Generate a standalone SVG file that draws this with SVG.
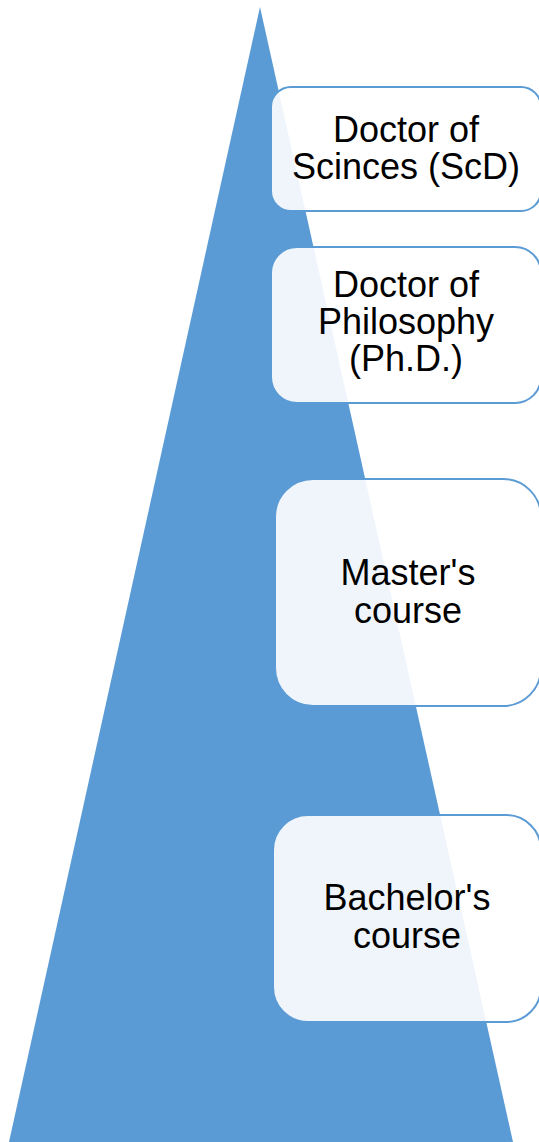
<svg xmlns="http://www.w3.org/2000/svg" width="539" height="1142" viewBox="0 0 539 1142">
<style>
.box{fill:#ffffff;fill-opacity:0.9;stroke:#5B9BD5;stroke-width:2}
.t{font-family:"Liberation Sans",Arial,sans-serif;font-size:36px;fill:#000;text-anchor:middle}
</style>
<rect width="539" height="1142" fill="#ffffff"/>
<g id="pyramid"><polygon points="260,7 9,1142 513,1142" fill="#5B9BD5"/></g>
<g id="connectors"></g>
<g id="node-scd">
<rect class="box" x="271" y="87" width="270" height="124" rx="20" ry="20"/>
<text class="t" x="406" y="142">Doctor of</text>
<text class="t" x="406" y="179">Scinces (ScD)</text>
</g>
<g id="node-phd">
<rect class="box" x="271" y="247" width="270" height="156" rx="26" ry="26"/>
<text class="t" x="406" y="297">Doctor of</text>
<text class="t" x="406" y="334">Philosophy</text>
<text class="t" x="406" y="371">(Ph.D.)</text>
</g>
<g id="node-master">
<rect class="box" x="275" y="479" width="266" height="227" rx="38" ry="38"/>
<text class="t" x="408" y="585">Master's</text>
<text class="t" x="408" y="623">course</text>
</g>
<g id="node-bachelor">
<rect class="box" x="273" y="815" width="268" height="207" rx="35" ry="35"/>
<text class="t" x="407" y="910">Bachelor's</text>
<text class="t" x="407" y="948">course</text>
</g>
</svg>
